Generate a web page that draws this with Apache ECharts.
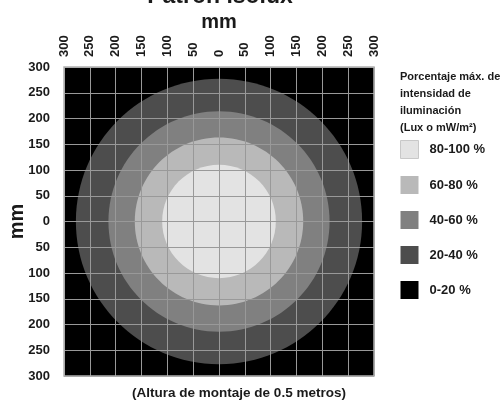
<!DOCTYPE html>
<html>
<head>
<meta charset="utf-8">
<script src="https://cdn.jsdelivr.net/npm/echarts@6/dist/echarts.min.js"></script>
<style>
html,body{margin:0;padding:0;background:#fff;}
#chart{width:501px;height:401px;}
</style>
</head>
<body>
<div id="chart"></div>
<script>
// ---- data ----
const chartTitle = 'Patrón isolux';
const axisUnit = 'mm';
const axisMin = -300;
const axisMax = 300;
const axisStep = 50;
const bandNames = ['0-20 %', '20-40 %', '40-60 %', '60-80 %', '80-100 %'];
const bandOuterRadiusMm = [300, 277, 214, 163, 110]; // 0-20 % fills the whole field
const legendTitle = 'Porcentaje máx. de\nintensidad de\niluminación\n(Lux o mW/m²)';
const footNote = '(Altura de montaje de 0.5 metros)';

// ---- style ----
const bandColors = ['#000000', '#4d4d4d', '#808080', '#b9b9b9', '#e3e3e3'];
const FONT = '"Liberation Sans", Arial, sans-serif';

function renderBand(params, api) {
  const r = api.value(2);
  if (params.seriesIndex === 0) {
    const p1 = api.coord([-r, r]);
    const p2 = api.coord([r, -r]);
    return {type: 'rect', shape: {x: p1[0], y: p1[1], width: p2[0] - p1[0], height: p2[1] - p1[1]},
            style: {fill: api.visual('color')}};
  }
  const c = api.coord([api.value(0), api.value(1)]);
  const s = api.size([r, r]);
  return {type: 'ellipse', shape: {cx: c[0], cy: c[1], rx: s[0], ry: s[1]},
          style: {fill: api.visual('color')}};
}

const series = bandNames.map((name, i) => ({
  type: 'custom',
  name: name,
  renderItem: renderBand,
  itemStyle: {color: bandColors[i]},
  data: [[0, 0, bandOuterRadiusMm[i]]],
  silent: true,
  z: 2
}));

const legendData = bandNames.slice().reverse().map(n => n === '80-100 %'
  ? {name: n, itemStyle: {borderColor: '#c8c8c8', borderWidth: 1}} : {name: n});

const labelStyle = {fontFamily: FONT, fontWeight: 'bold', fontSize: 13, color: '#1a1a1a'};

const chart = echarts.init(document.getElementById('chart'), null, {renderer: 'canvas'});
chart.setOption({
  animation: false,
  backgroundColor: '#fff',
  title: [
    {text: chartTitle, left: 215, top: -20, textAlign: 'center',
     textStyle: {fontFamily: FONT, fontWeight: 'bold', fontSize: 23, color: '#1a1a1a'}},
    {text: legendTitle, left: 400, top: 68, padding: 0,
     textStyle: {fontFamily: FONT, fontWeight: 'bold', fontSize: 11, lineHeight: 17, color: '#1a1a1a'}},
    {text: footNote, left: 239, top: 386, textAlign: 'center', padding: 0,
     textStyle: {fontFamily: FONT, fontWeight: 'bold', fontSize: 13.5, color: '#1a1a1a'}}
  ],
  legend: {
    orient: 'vertical', left: 400, top: 140, padding: 0,
    icon: 'rect', itemWidth: 18, itemHeight: 18, itemGap: 17,
    selectedMode: false,
    textStyle: Object.assign({padding: [0, 0, 0, 6]}, labelStyle),
    data: legendData
  },
  grid: {left: 64, top: 67, width: 310, height: 309, show: true, outerBoundsMode: 'none', containLabel: false,
         backgroundColor: 'transparent', borderColor: '#b0b0b0', borderWidth: 1.5, z: 5},
  xAxis: {
    type: 'value', position: 'top', min: axisMin, max: axisMax, interval: axisStep, z: 3,
    name: axisUnit, nameLocation: 'middle', nameGap: 35, nameMoveOverlap: false,
    nameTextStyle: {fontFamily: FONT, fontWeight: 'bold', fontSize: 20, color: '#1a1a1a'},
    axisLine: {show: false}, axisTick: {show: false},
    axisLabel: Object.assign({rotate: 90, margin: 10, formatter: v => String(Math.abs(v))}, labelStyle),
    splitLine: {show: true, lineStyle: {color: '#999', width: 1}}
  },
  yAxis: {
    type: 'value', min: axisMin, max: axisMax, interval: axisStep, z: 3,
    name: axisUnit, nameLocation: 'middle', nameGap: 37, nameMoveOverlap: false,
    nameTextStyle: {fontFamily: FONT, fontWeight: 'bold', fontSize: 20, color: '#1a1a1a'},
    axisLine: {show: false}, axisTick: {show: false},
    axisLabel: Object.assign({margin: 14, formatter: v => String(Math.abs(v))}, labelStyle),
    splitLine: {show: true, lineStyle: {color: '#999', width: 1}}
  },
  series: series
});
</script>
</body>
</html>
